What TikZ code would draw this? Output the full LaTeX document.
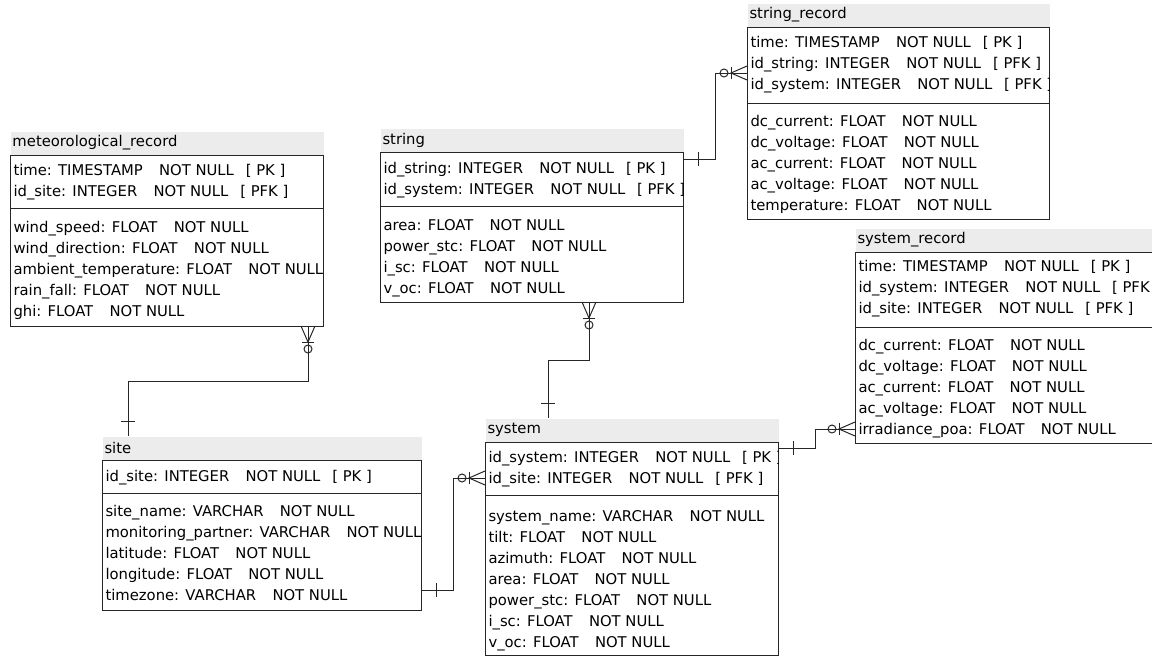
\documentclass[tikz,border=0pt]{standalone}
\usepackage{fontspec}
\setmainfont{DejaVu Sans}
\newcommand{\notnull}{\hspace{1.1em}NOT NULL}
\newcommand{\keytag}[1]{\hspace{0.8em}[ #1 ]}

\begin{document}
\begin{tikzpicture}[x=1pt, y=-1pt, line width=1pt, font=\fontsize{14.8}{18}\selectfont]
    % Define styles
    \tikzset{
        head/.style={fill=gray!15, anchor=north west, inner xsep=2pt, inner ysep=0pt, minimum height=23pt, align=left},
        entity/.style={draw=black!85, anchor=north west, inner sep=0pt, outer sep=0pt},
        field/.style={anchor=west, inner sep=0pt, text height=11pt, text depth=1pt},
        rel/.style={draw=black!85},
        many/.pic={\draw[rel] (0,-7) -- (16,0) -- (0,7); \draw[rel] (16,-6) -- (16,6); \draw[rel] (23,0) circle (4);},
        one/.pic={\draw[rel] (15,-7) -- (15,7);}
    }
    \clip (0,0) rectangle (1152,656);

    % meteorological_record
    \node[head, text width=309pt] (meteo-h) at (10,131) {meteorological\_record};
    \node[entity, minimum width=313pt, minimum height=171pt] (meteo) at (10,155) {};
    \draw[rel] (meteo.west |- 0,208) -- (meteo.east |- 0,208);
    \begin{scope}
        \clip (meteo.north west) rectangle (meteo.south east);
        \foreach \t [count=\i] in {{time: TIMESTAMP\notnull\keytag{PK}}, {id\_site: INTEGER\notnull\keytag{PFK}}}
            \node[field] (meteo-k\i) at (13, 149+21*\i) {\t};
        \foreach \t [count=\i] in {{wind\_speed: FLOAT\notnull}, {wind\_direction: FLOAT\notnull}, {ambient\_temperature: FLOAT\notnull}, {rain\_fall: FLOAT\notnull}, {ghi: FLOAT\notnull}}
            \node[field] (meteo-f\i) at (13, 206+21*\i) {\t};
    \end{scope}

    % string
    \node[head, text width=299pt] (string-h) at (380,128) {string};
    \node[entity, minimum width=303pt, minimum height=150pt] (string) at (380,152) {};
    \draw[rel] (string.west |- 0,206) -- (string.east |- 0,206);
    \begin{scope}
        \clip (string.north west) rectangle (string.south east);
        \foreach \t [count=\i] in {{id\_string: INTEGER\notnull\keytag{PK}}, {id\_system: INTEGER\notnull\keytag{PFK}}}
            \node[field] (string-k\i) at (383, 147+21*\i) {\t};
        \foreach \t [count=\i] in {{area: FLOAT\notnull}, {power\_stc: FLOAT\notnull}, {i\_sc: FLOAT\notnull}, {v\_oc: FLOAT\notnull}}
            \node[field] (string-f\i) at (383, 204+21*\i) {\t};
    \end{scope}

    % string_record
    \node[head, text width=298pt] (strrec-h) at (747,3) {string\_record};
    \node[entity, minimum width=302pt, minimum height=192pt] (strrec) at (747,27) {};
    \draw[rel] (strrec.west |- 0,103) -- (strrec.east |- 0,103);
    \begin{scope}
        \clip (strrec.north west) rectangle (strrec.south east);
        \foreach \t [count=\i] in {{time: TIMESTAMP\notnull\keytag{PK}}, {id\_string: INTEGER\notnull\keytag{PFK}}, {id\_system: INTEGER\notnull\keytag{PFK}}}
            \node[field] (strrec-k\i) at (750, 21+21*\i) {\t};
        \foreach \t [count=\i] in {{dc\_current: FLOAT\notnull}, {dc\_voltage: FLOAT\notnull}, {ac\_current: FLOAT\notnull}, {ac\_voltage: FLOAT\notnull}, {temperature: FLOAT\notnull}}
            \node[field] (strrec-f\i) at (750, 100+21*\i) {\t};
    \end{scope}

    % system_record
    \node[head, text width=306pt] (sysrec-h) at (855,228) {system\_record};
    \node[entity, minimum width=310pt, minimum height=191pt] (sysrec) at (855,252) {};
    \draw[rel] (sysrec.west |- 0,327) -- (sysrec.east |- 0,327);
    \begin{scope}
        \clip (sysrec.north west) rectangle (sysrec.south east);
        \foreach \t [count=\i] in {{time: TIMESTAMP\notnull\keytag{PK}}, {id\_system: INTEGER\notnull\keytag{PFK}}, {id\_site: INTEGER\notnull\keytag{PFK}}}
            \node[field] (sysrec-k\i) at (858, 245+21*\i) {\t};
        \foreach \t [count=\i] in {{dc\_current: FLOAT\notnull}, {dc\_voltage: FLOAT\notnull}, {ac\_current: FLOAT\notnull}, {ac\_voltage: FLOAT\notnull}, {irradiance\_poa: FLOAT\notnull}}
            \node[field] (sysrec-f\i) at (858, 324+21*\i) {\t};
    \end{scope}

    % system
    \node[head, text width=289pt] (system-h) at (485,418) {system};
    \node[entity, minimum width=293pt, minimum height=213pt] (system) at (485,442) {};
    \draw[rel] (system.west |- 0,495) -- (system.east |- 0,495);
    \begin{scope}
        \clip (system.north west) rectangle (system.south east);
        \foreach \t [count=\i] in {{id\_system: INTEGER\notnull\keytag{PK}}, {id\_site: INTEGER\notnull\keytag{PFK}}}
            \node[field] (system-k\i) at (488, 436+21*\i) {\t};
        \foreach \t [count=\i] in {{system\_name: VARCHAR\notnull}, {tilt: FLOAT\notnull}, {azimuth: FLOAT\notnull}, {area: FLOAT\notnull}, {power\_stc: FLOAT\notnull}, {i\_sc: FLOAT\notnull}, {v\_oc: FLOAT\notnull}}
            \node[field] (system-f\i) at (488, 495+21*\i) {\t};
    \end{scope}

    % site
    \node[head, text width=315pt] (site-h) at (102,436) {site};
    \node[entity, minimum width=319pt, minimum height=150pt] (site) at (102,460) {};
    \draw[rel] (site.west |- 0,493) -- (site.east |- 0,493);
    \begin{scope}
        \clip (site.north west) rectangle (site.south east);
        \node[field] (site-k1) at (105, 476) {id\_site: INTEGER\notnull\keytag{PK}};
        \foreach \t [count=\i] in {{site\_name: VARCHAR\notnull}, {monitoring\_partner: VARCHAR\notnull}, {latitude: FLOAT\notnull}, {longitude: FLOAT\notnull}, {timezone: VARCHAR\notnull}}
            \node[field] (site-f\i) at (105, 490+21*\i) {\t};
    \end{scope}

    % Relations
    \draw[rel] (meteo.south -| 308,0) |- (128,381) -- (site-h.north -| 128,0);
    \pic[rotate=-90] at (meteo.south -| 308,0) {many};
    \pic[rotate=90] at (site-h.north -| 128,0) {one};

    \draw[rel] (site.east |- 0,590) -- ++(32,0) |- (system.west |- 0,478);
    \pic at (site.east |- 0,590) {one};
    \pic[rotate=180] at (system.west |- 0,478) {many};

    \draw[rel] (string.south -| 589,0) |- (548,360) -- (system-h.north -| 548,0);
    \pic[rotate=-90] at (string.south -| 589,0) {many};
    \pic[rotate=90] at (system-h.north -| 548,0) {one};

    \draw[rel] (string.east |- 0,159) -- ++(32,0) |- (strrec.west |- 0,73);
    \pic at (string.east |- 0,159) {one};
    \pic[rotate=180] at (strrec.west |- 0,73) {many};

    \draw[rel] (system.east |- 0,448) -- ++(37,0) |- (sysrec.west |- 0,429);
    \pic at (system.east |- 0,448) {one};
    \pic[rotate=180] at (sysrec.west |- 0,429) {many};
\end{tikzpicture}
\end{document}
